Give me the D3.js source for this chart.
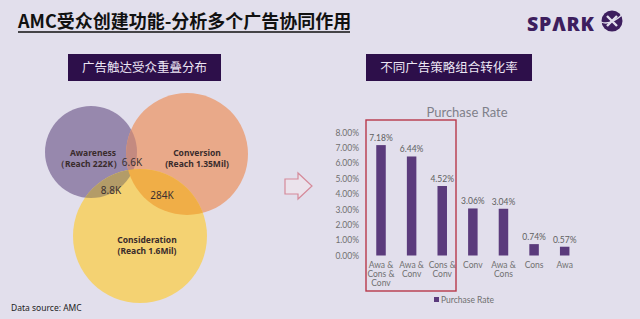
<!DOCTYPE html>
<html><head><meta charset="utf-8">
<script src="https://cdn.jsdelivr.net/npm/d3@7"></script>
<style>
html,body{margin:0;padding:0;background:#e2dfec;}
svg{display:block;}
</style></head>
<body>
<script>
// ---- data ----
const categories = [["Awa &","Cons &","Conv"],["Awa &","Conv"],["Cons &","Conv"],["Conv"],["Awa &","Cons"],["Cons"],["Awa"]];
const values = [7.18, 6.44, 4.52, 3.06, 3.04, 0.74, 0.57];
const yTicks = [0,1,2,3,4,5,6,7,8];
const vennSets = ["Awareness","Conversion","Consideration"];
const vennReach = ["（Reach 222K）","(Reach 1.35Mil)","(Reach 1.6Mil)"];
const vennOverlaps = ["6.6K","8.8K","284K"];
const chartTitle = "Purchase Rate";
const seriesName = "Purchase Rate";

const W=640,H=319;
const svg=d3.select("body").append("svg").attr("width",W).attr("height",H);
svg.append("rect").attr("width",W).attr("height",H).attr("fill","#e2dfec");

const cjk="'Noto Sans CJK SC','Noto Sans',sans-serif";
// Title
svg.append("text").attr("x",18).attr("y",28).attr("font-family",cjk).attr("font-weight","bold")
  .attr("font-size",18).attr("fill","#111").text("AMC受众创建功能-分析多个广告协同作用");
svg.append("line").attr("x1",18).attr("x2",350).attr("y1",32).attr("y2",32).attr("stroke","#111").attr("stroke-width",1.5);

// Logo
svg.append("text").attr("x",527).attr("y",31).attr("font-family","'Open Sans',sans-serif").attr("font-weight","800")
  .attr("font-size",19.5).attr("fill","#3d1e5e").attr("letter-spacing",0.8).text("SPΛRK");
const lg=svg.append("g").attr("transform","translate(612,21)");
lg.append("circle").attr("r",10.5).attr("fill","#3d1e5e");
lg.append("path").attr("d","M-5,-5 L5,5 M5,-5 L-5,5").attr("stroke","#e2dfec").attr("stroke-width",2.4);
lg.append("path").attr("d","M-11,1 Q-2,5 11,-7").attr("stroke","#e2dfec").attr("stroke-width",1.3).attr("fill","none");

// Header boxes
function header(x0,x1,txt){
  svg.append("rect").attr("x",x0).attr("y",54).attr("width",x1-x0).attr("height",27).attr("fill","#2d0f4a");
  svg.append("text").attr("x",(x0+x1)/2).attr("y",72).attr("text-anchor","middle").attr("font-family",cjk)
    .attr("font-size",12.5).attr("fill","#ece6f4").text(txt);
}
header(68,221,"广告触达受众重叠分布");
header(366,532,"不同广告策略组合转化率");

// Venn
const venn=[{cx:91,cy:152,r:46,c:"#9788ad"},{cx:187,cy:154,r:61,c:"#e9a989"},{cx:140,cy:236,r:67,c:"#f4d272"}];
const overlapFills=[[0,1,"#c48a80"],[0,2,"#b39c68"],[1,2,"#f0ae47"]];
const defs=svg.append("defs");
venn.forEach((d,i)=>defs.append("clipPath").attr("id","vc"+i).append("circle").attr("cx",d.cx).attr("cy",d.cy).attr("r",d.r));
const vg=svg.append("g");
vg.selectAll("circle.base").data(venn).join("circle").attr("class","base").attr("cx",d=>d.cx).attr("cy",d=>d.cy).attr("r",d=>d.r)
  .attr("fill",d=>d.c);
overlapFills.forEach(([a,b,c])=>{
  vg.append("g").attr("clip-path","url(#vc"+a+")").append("circle")
    .attr("cx",venn[b].cx).attr("cy",venn[b].cy).attr("r",venn[b].r).attr("fill",c);
});
const lf="'Noto Sans','Open Sans',sans-serif";
const setLabelPos=[[93,156],[197,156],[147,243]];
vennSets.forEach((s,i)=>{
  const t=svg.append("text").attr("text-anchor","middle").attr("font-family",lf).attr("font-weight","bold")
    .attr("font-size",8.5).attr("fill","#3a2c2c");
  t.append("tspan").attr("x",setLabelPos[i][0]).attr("y",setLabelPos[i][1]).text(s);
  t.append("tspan").attr("x",setLabelPos[i][0]-(i===0?4:0)).attr("y",setLabelPos[i][1]+11).text(vennReach[i]);
});
const ovPos=[[132,166],[111,194],[162,199]];
vennOverlaps.forEach((s,i)=>{
  svg.append("text").attr("x",ovPos[i][0]).attr("y",ovPos[i][1]).attr("text-anchor","middle").attr("font-family",lf)
    .attr("font-size",10).attr("fill","#3b3030").text(s);
});

// Data source
svg.append("text").attr("x",11).attr("y",311).attr("font-family",lf).attr("font-size",8.5).attr("fill","#222").text("Data source: AMC");

// Arrow
svg.append("path").attr("d","M285,179 L298,179 L298,173 L312,186 L298,199 L298,194 L285,194 Z")
  .attr("fill","#ebe3ec").attr("stroke","#d58a9a").attr("stroke-width",1.2);

// Bar chart
const cf="Lato,'Open Sans',sans-serif";
const y=d3.scaleLinear().domain([0,8]).range([255.5,132.5]);
const x=d3.scaleBand().domain(d3.range(categories.length)).range([365.7,580]).padding(0);
const bw=9.5;
svg.append("text").attr("x",467).attr("y",117).attr("text-anchor","middle").attr("font-family",cf)
  .attr("font-size",13).attr("fill","#7f7f8a").text(chartTitle);
const ya=svg.append("g").attr("transform","translate(362,0)")
  .call(d3.axisLeft(y).tickValues(yTicks).tickSize(0).tickPadding(3).tickFormat(d=>d3.format(".2f")(d)+"%"));
ya.select(".domain").remove();
ya.selectAll("text").attr("font-family",cf).attr("font-size",8.5).attr("fill","#707070");
svg.append("g").selectAll("rect").data(values).join("rect")
  .attr("x",(d,i)=>x(i)+x.bandwidth()/2-bw/2).attr("y",d=>y(d)).attr("width",bw).attr("height",d=>y(0)-y(d))
  .attr("fill","#5b3b7c");
svg.append("g").selectAll("text").data(values).join("text")
  .attr("x",(d,i)=>x(i)+x.bandwidth()/2).attr("y",d=>y(d)-4).attr("text-anchor","middle")
  .attr("font-family",cf).attr("font-size",8.5).attr("fill","#606060").text(d=>d3.format(".2f")(d)+"%");
const xl=svg.append("g").selectAll("text").data(categories).join("text")
  .attr("text-anchor","middle").attr("font-family",cf).attr("font-size",8.5).attr("fill","#707070");
xl.each(function(lines,i){
  const t=d3.select(this);
  lines.forEach((l,j)=>t.append("tspan").attr("x",x(i)+x.bandwidth()/2).attr("y",268+j*9.2).text(l));
});
// highlight box
svg.append("rect").attr("x",366).attr("y",120).attr("width",90).attr("height",171)
  .attr("fill","none").attr("stroke","#b8384a").attr("stroke-width",1.4);
// legend
svg.append("rect").attr("x",434).attr("y",297).attr("width",5).attr("height",5).attr("fill","#5b3b7c");
svg.append("text").attr("x",441).attr("y",302.5).attr("font-family",cf).attr("font-size",8.5).attr("fill","#707070").text(seriesName);
</script>
</body></html>
